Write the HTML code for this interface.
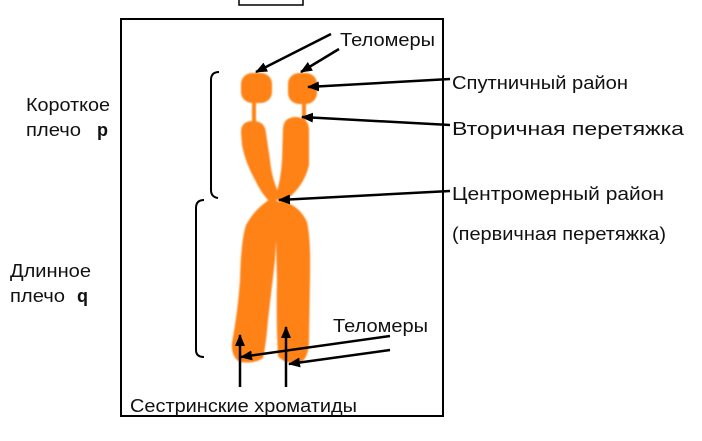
<!DOCTYPE html>
<html><head><meta charset="utf-8"><style>
body{margin:0;background:#fff;width:702px;height:436px;overflow:hidden}
svg text{font-family:"Liberation Sans",Arial,sans-serif;font-size:18px;fill:#111}
</style></head><body>
<svg width="702" height="436" viewBox="0 0 702 436" xmlns="http://www.w3.org/2000/svg">
<defs>
<marker id="ah" markerWidth="12" markerHeight="10" refX="11" refY="5" orient="auto" markerUnits="userSpaceOnUse">
<path d="M0,0 L12,5 L0,10 Z" fill="#000"/></marker>
<filter id="fz"><feGaussianBlur stdDeviation="0.8"/></filter>
</defs>
<rect x="239" y="-2" width="64" height="7" fill="none" stroke="#000" stroke-width="1.5"/>
<rect x="121" y="19" width="322" height="397" fill="none" stroke="#000" stroke-width="2"/>
<g fill="#FF8214" filter="url(#fz)">
<rect x="241" y="73" width="31" height="30" rx="11"/>
<rect x="252" y="100" width="4" height="24"/>
<rect x="288" y="73" width="29" height="31" rx="11"/>
<rect x="302" y="102" width="4" height="18"/>
<path d="M241,132 Q241,121 253,121 Q265,121 266,133 L270,160 Q272,180 280,196 L272,204 Q262,195 255,180 Q245,162 242,145 Z"/>
<path d="M283,128 Q284,117 296,117 Q309,118 309,130 L309,165 Q304,188 282,203 L275,198 Q281,180 282,160 Z"/>
<path d="M272,198 L281,203 Q276,230 275,260 L268,320 Q266,345 263,358 Q255,364 240,362 Q231,357 232,343 Q238,310 240,280 Q241,240 246,225 Q256,207 272,198 Z"/>
<path d="M281,200 Q300,206 307,222 Q311,240 310,280 L309,340 Q309,358 300,363 Q284,364 278,356 Q276,320 277,280 L276,240 Q276,215 281,200 Z"/>
</g>
<g stroke="#000" stroke-width="2.5" fill="none">
<line x1="331" y1="34" x2="256" y2="72" marker-end="url(#ah)"/>
<line x1="339" y1="49" x2="301" y2="72" marker-end="url(#ah)"/>
<line x1="450" y1="79" x2="308" y2="87" marker-end="url(#ah)"/>
<line x1="450" y1="125" x2="302" y2="117" marker-end="url(#ah)"/>
<line x1="450" y1="191" x2="279" y2="200" marker-end="url(#ah)"/>
<line x1="390" y1="336" x2="241" y2="357" marker-end="url(#ah)"/>
<line x1="390" y1="350" x2="289" y2="364" marker-end="url(#ah)"/>
<line x1="240" y1="387" x2="240" y2="335" marker-end="url(#ah)"/>
<line x1="286" y1="387" x2="286" y2="327" marker-end="url(#ah)"/>
</g>
<g stroke="#000" stroke-width="2" fill="none">
<path d="M219,72 Q211,72 211,80 L211,190 Q211,197 218,198"/>
<path d="M204,200 Q196,200 196,208 L196,350 Q196,357 204,357"/>
</g>
<text x="340" y="46" textLength="95" lengthAdjust="spacingAndGlyphs">Теломеры</text>
<text x="452" y="89" textLength="176" lengthAdjust="spacingAndGlyphs">Спутничный район</text>
<text x="452" y="135" textLength="232" lengthAdjust="spacingAndGlyphs">Вторичная перетяжка</text>
<text x="452" y="200" textLength="212" lengthAdjust="spacingAndGlyphs">Центромерный район</text>
<text x="452" y="240" textLength="214" lengthAdjust="spacingAndGlyphs">(первичная перетяжка)</text>
<text x="333" y="332" textLength="95" lengthAdjust="spacingAndGlyphs">Теломеры</text>
<text x="130" y="412" textLength="227" lengthAdjust="spacingAndGlyphs">Сестринские хроматиды</text>
<text x="26" y="111" textLength="84" lengthAdjust="spacingAndGlyphs">Короткое</text>
<text x="26" y="136" textLength="55" lengthAdjust="spacingAndGlyphs">плечо</text>
<text x="97" y="136" font-weight="bold">p</text>
<text x="10" y="277" textLength="81" lengthAdjust="spacingAndGlyphs">Длинное</text>
<text x="10" y="302" textLength="55" lengthAdjust="spacingAndGlyphs">плечо</text>
<text x="77" y="302" font-weight="bold">q</text>
</svg>
</body></html>
